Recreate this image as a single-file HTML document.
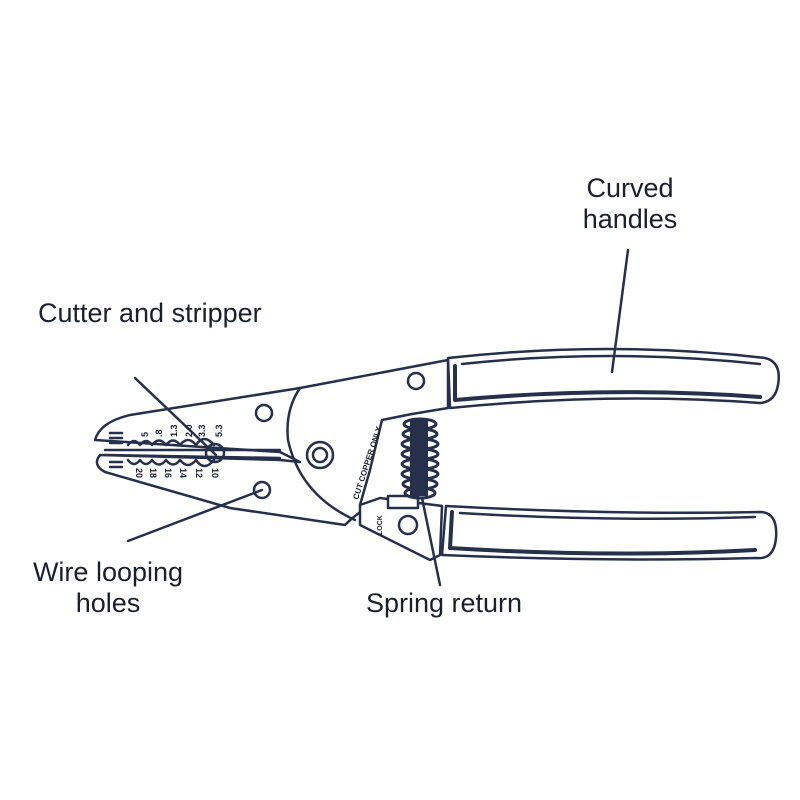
<!DOCTYPE html>
<html><head><style>
html,body{margin:0;padding:0;background:#fff;}
svg{display:block}
text{font-family:"Liberation Sans",sans-serif;fill:#1a1f2c;}
</style></head><body>
<svg width="800" height="800" viewBox="0 0 800 800" xmlns="http://www.w3.org/2000/svg">
<rect width="800" height="800" fill="#fff"/>
<g fill="none" stroke="#27304a" stroke-width="2.5" stroke-linejoin="round" stroke-linecap="round">
<!-- top handle -->
<path d="M448,358 Q610,340 765,358 Q782,362 778,385 Q775,402 760,403 Q610,392 450,408 Z" fill="#fff"/>
<path d="M455,366 L455,400 Q610,386 760,397" stroke-width="4"/>
<path d="M462,364 Q610,348 760,364"/>
<!-- bottom handle -->
<path d="M446,506 Q610,515 762,512 Q778,514 776,538 Q774,560 756,558 Q610,562 442,555 Z" fill="#fff"/>
<path d="M452,512 L450,548 Q610,558 755,550" stroke-width="4"/>
<path d="M460,513 Q610,522 755,517"/>
<!-- body -->
<path d="M448,360 L300,388 L130,415 Q100,422 95,440 L280,452 L300,462 L280,460 L100,455 Q92,465 105,472 L230,508 L345,525 Q360,510 380,500 L442,506" fill="none"/>
<path d="M448,360 L448,408 L412,414 L382,420 L370,470 L360,505" />
<path d="M300,388 Q285,410 288,440 Q300,495 355,520"/>
<path d="M105,450 L280,450 M105,455 L280,458"/>
<!-- lock region -->
<path d="M360,505 L380,498 L442,506 L440,555 L430,560 L360,525 Z" fill="#fff"/>
<rect x="388" y="496" width="30" height="12" fill="#fff"/>
<circle cx="408" cy="525" r="9"/>
<!-- holes -->
<circle cx="264" cy="413" r="8"/>
<circle cx="262" cy="490" r="8"/>
<circle cx="416" cy="381" r="8"/>
<circle cx="320" cy="455" r="13"/>
<circle cx="320" cy="455" r="7"/>
<!-- stripper notches -->
<path d="M128,445 q6,-8 12,0 q6,-8 12,0 q7,-9 14,0 q7,-9 14,0 q8,-10 16,0 q8,-12 18,0" />
<path d="M128,460 q6,8 12,0 q6,8 12,0 q7,9 14,0 q7,9 14,0 q8,10 16,0 q8,12 18,0" />
<circle cx="215" cy="453" r="9"/>
<path d="M110,433 h12 M110,438 h12 M110,443 h12 M110,462 h12 M110,467 h12"/>
<!-- spring -->
<rect x="410" y="420" width="18" height="76" fill="#27304a" stroke="none"/>
<g stroke-width="3" fill="none">
<ellipse cx="420" cy="424" rx="16" ry="5"/>
<ellipse cx="420" cy="434" rx="17" ry="5"/>
<ellipse cx="420" cy="444" rx="18" ry="5"/>
<ellipse cx="420" cy="454" rx="18" ry="5"/>
<ellipse cx="420" cy="464" rx="18" ry="5"/>
<ellipse cx="420" cy="474" rx="18" ry="5"/>
<ellipse cx="420" cy="484" rx="17" ry="5"/>
<ellipse cx="420" cy="493" rx="15" ry="5"/>
</g>
<!-- leader lines -->
<path d="M628,250 L612,372"/>
<path d="M135,378 L216,455"/>
<path d="M128,541 L262,490"/>
<path d="M422,498 L440,585"/>
</g>
<g font-size="9" font-weight="bold" fill="#1a1f2c">
<text x="0" y="0" transform="translate(148,437) rotate(-90)">5</text>
<text x="0" y="0" transform="translate(162,437) rotate(-90)">.8</text>
<text x="0" y="0" transform="translate(177,437) rotate(-90)">1.3</text>
<text x="0" y="0" transform="translate(192,437) rotate(-90)">2.0</text>
<text x="0" y="0" transform="translate(205,437) rotate(-90)">3.3</text>
<text x="0" y="0" transform="translate(222,437) rotate(-90)">5.3</text>
<text x="0" y="0" transform="translate(136,468) rotate(90)">20</text>
<text x="0" y="0" transform="translate(150,468) rotate(90)">18</text>
<text x="0" y="0" transform="translate(165,468) rotate(90)">16</text>
<text x="0" y="0" transform="translate(180,468) rotate(90)">14</text>
<text x="0" y="0" transform="translate(196,468) rotate(90)">12</text>
<text x="0" y="0" transform="translate(212,468) rotate(90)">10</text>
<text x="0" y="0" transform="translate(358,500) rotate(-72)" font-size="8">CUT COPPER ONLY</text>
<text x="0" y="0" transform="translate(382,535) rotate(-90)" font-size="7">LOCK</text>
</g>
<g font-size="27">
<text x="630" y="197" text-anchor="middle">Curved</text>
<text x="630" y="228" text-anchor="middle">handles</text>
<text x="38" y="322">Cutter and stripper</text>
<text x="108" y="581" text-anchor="middle">Wire looping</text>
<text x="108" y="612" text-anchor="middle">holes</text>
<text x="444" y="612" text-anchor="middle">Spring return</text>
</g>
</svg>
</body></html>
